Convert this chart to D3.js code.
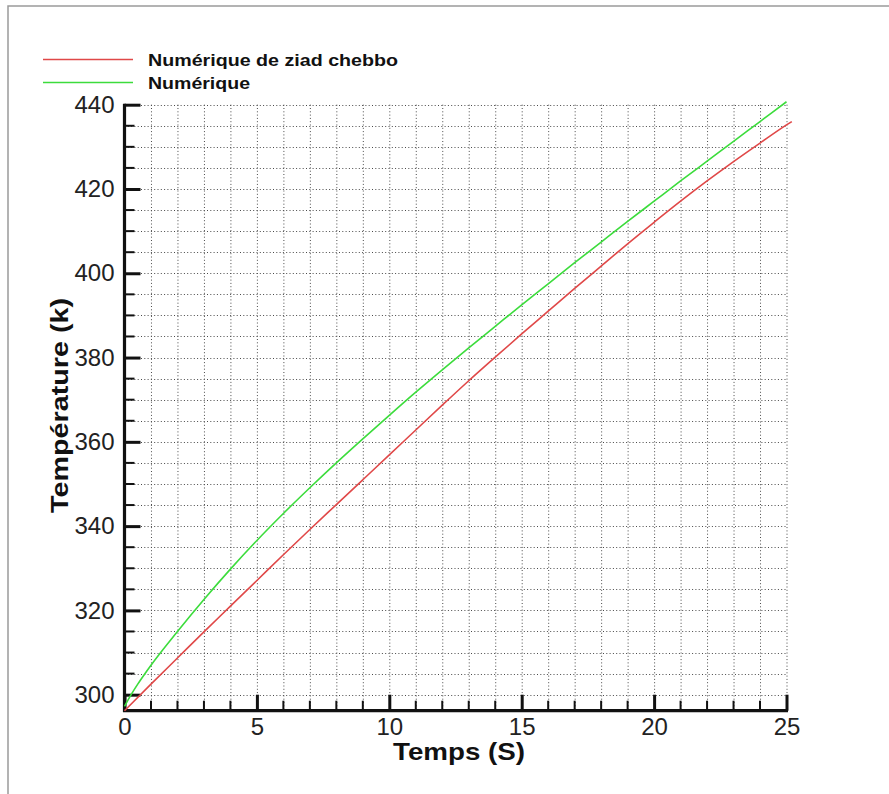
<!DOCTYPE html>
<html><head><meta charset="utf-8">
<script src="https://cdn.jsdelivr.net/npm/d3@7"></script>
<style>body{margin:0;background:#fff;}</style>
</head><body>
<svg id="chart" width="889" height="794"></svg>
<script>
const seriesNames = ["Numérique de ziad chebbo", "Numérique"];
const seriesColors = ["#e04848", "#3cdc3c"];
const xTitle = "Temps (S)";
const yTitle = "Température (k)";

const redTime = [0, 1, 2, 3, 4, 5, 6, 7, 8, 9, 10, 11, 12, 13, 14, 15, 16, 17, 18, 19, 20, 21, 22, 23, 24, 25, 25.2];
const redTemp = [296.2, 302.5, 308.7, 314.9, 321.0, 327.1, 333.2, 339.2, 345.1, 351.0, 356.9, 362.8, 368.7, 374.5, 380.1, 385.6, 391.0, 396.4, 401.7, 407.0, 412.1, 417.1, 421.9, 426.5, 430.9, 435.2, 436.0];

const greenTime = [0, 0.25, 0.5, 0.75, 1, 2, 3, 4, 5, 6, 7, 8, 9, 10, 11, 12, 13, 14, 15, 16, 17, 18, 19, 20, 21, 22, 23, 24, 25];
const greenTemp = [297.2, 300.0, 302.5, 304.8, 307.0, 315.0, 322.6, 329.8, 336.6, 343.0, 349.1, 355.0, 360.7, 366.3, 371.8, 377.1, 382.3, 387.4, 392.5, 397.5, 402.5, 407.4, 412.3, 417.1, 421.9, 426.6, 431.3, 436.0, 440.7];

const xMajorTicks = [0, 5, 10, 15, 20, 25];
const xMinorTicks = d3.range(0, 26, 1);
const yMajorTicks = [300, 320, 340, 360, 380, 400, 420, 440];
const yMinorTicks = d3.range(300, 441, 5);

const svg = d3.select("#chart");
const font = "'Liberation Sans', Arial, Helvetica, sans-serif";

// outer frame (left and top edges only visible)
svg.append("path").attr("d", "M8,800 L8,6 L900,6").attr("fill", "none")
  .attr("stroke", "#9a9a9a").attr("stroke-width", 1.5);

const x = d3.scaleLinear().domain([0, 25]).range([124.5, 786.5]);
const y = d3.scaleLinear().domain([296.2, 440]).range([710.7, 104.7]);

// grid
const grid = svg.append("g").attr("stroke", "#4a4a4a").attr("stroke-width", 1).attr("stroke-dasharray", "1,2.3");
grid.selectAll("line.v").data(xMinorTicks.filter(d => d > 0)).join("line")
  .attr("x1", d => x(d) + 0.5).attr("x2", d => x(d) + 0.5)
  .attr("y1", y(440)).attr("y2", y(296.2));
grid.selectAll("line.h").data(yMinorTicks).join("line")
  .attr("y1", d => Math.round(y(d)) + 0.5).attr("y2", d => Math.round(y(d)) + 0.5)
  .attr("x1", x(0)).attr("x2", x(25));

// minor ticks
const minor = svg.append("g").attr("stroke", "#111").attr("stroke-width", 2);
minor.selectAll("line.xm").data(xMinorTicks.filter(d => !xMajorTicks.includes(d))).join("line")
  .attr("x1", d => x(d)).attr("x2", d => x(d)).attr("y1", y(296.2)).attr("y2", y(296.2) - 10);
minor.selectAll("line.ym").data(yMinorTicks.filter(d => !yMajorTicks.includes(d))).join("line")
  .attr("y1", d => y(d)).attr("y2", d => y(d)).attr("x1", x(0)).attr("x2", x(0) + 10);

// axes with major ticks
const xAxis = d3.axisBottom(x).tickValues(xMajorTicks).tickSize(-16).tickPadding(7).tickFormat(d3.format("d"));
const yAxis = d3.axisLeft(y).tickValues(yMajorTicks).tickSize(-16).tickPadding(10).tickFormat(d3.format("d"));

const gx = svg.append("g").attr("transform", `translate(0,${y(296.2)})`).call(xAxis);
const gy = svg.append("g").attr("transform", `translate(${x(0)},0)`).call(yAxis);
[gx, gy].forEach(g => {
  g.select(".domain").remove();
  g.selectAll(".tick line").attr("stroke", "#111").attr("stroke-width", 3);
  g.selectAll(".tick text").attr("fill", "#222").style("font-family", font).style("font-size", "24px");
});

// axis lines
svg.append("path")
  .attr("d", `M${x(0)},${y(440) - 1}L${x(0)},${y(296.2)}L${x(25) + 1.5},${y(296.2)}`)
  .attr("fill", "none").attr("stroke", "#111").attr("stroke-width", 3.2);

// series
const line = d3.line().x(d => x(d[0])).y(d => y(d[1])).curve(d3.curveMonotoneX);
const redData = redTime.map((t, i) => [t, redTemp[i]]);
const greenData = greenTime.map((t, i) => [t, greenTemp[i]]);
svg.append("path").datum(redData).attr("d", line).attr("fill", "none")
  .attr("stroke", seriesColors[0]).attr("stroke-width", 1.6);
svg.append("path").datum(greenData).attr("d", line).attr("fill", "none")
  .attr("stroke", seriesColors[1]).attr("stroke-width", 1.6);

// legend
const legendY = [59.5, 82.5];
seriesNames.forEach((name, i) => {
  svg.append("line").attr("x1", 43).attr("x2", 133).attr("y1", legendY[i]).attr("y2", legendY[i])
    .attr("stroke", seriesColors[i]).attr("stroke-width", 1.3);
  svg.append("text").attr("x", 148).attr("y", legendY[i] + 6)
    .attr("textLength", i === 0 ? 250 : 102).attr("lengthAdjust", "spacingAndGlyphs")
    .style("font-family", font).style("font-weight", "bold").style("font-size", "16.5px")
    .attr("fill", "#111").text(name);
});

// axis titles
svg.append("text").attr("x", 393).attr("y", 759.5)
  .attr("textLength", 132).attr("lengthAdjust", "spacingAndGlyphs")
  .style("font-family", font).style("font-weight", "bold").style("font-size", "24px")
  .attr("fill", "#111").text(xTitle);
svg.append("text").attr("transform", "translate(68,513) rotate(-90)")
  .attr("x", 0).attr("y", 0)
  .attr("textLength", 215).attr("lengthAdjust", "spacingAndGlyphs")
  .style("font-family", font).style("font-weight", "bold").style("font-size", "24.5px")
  .attr("fill", "#111").text(yTitle);
</script>
</body></html>
